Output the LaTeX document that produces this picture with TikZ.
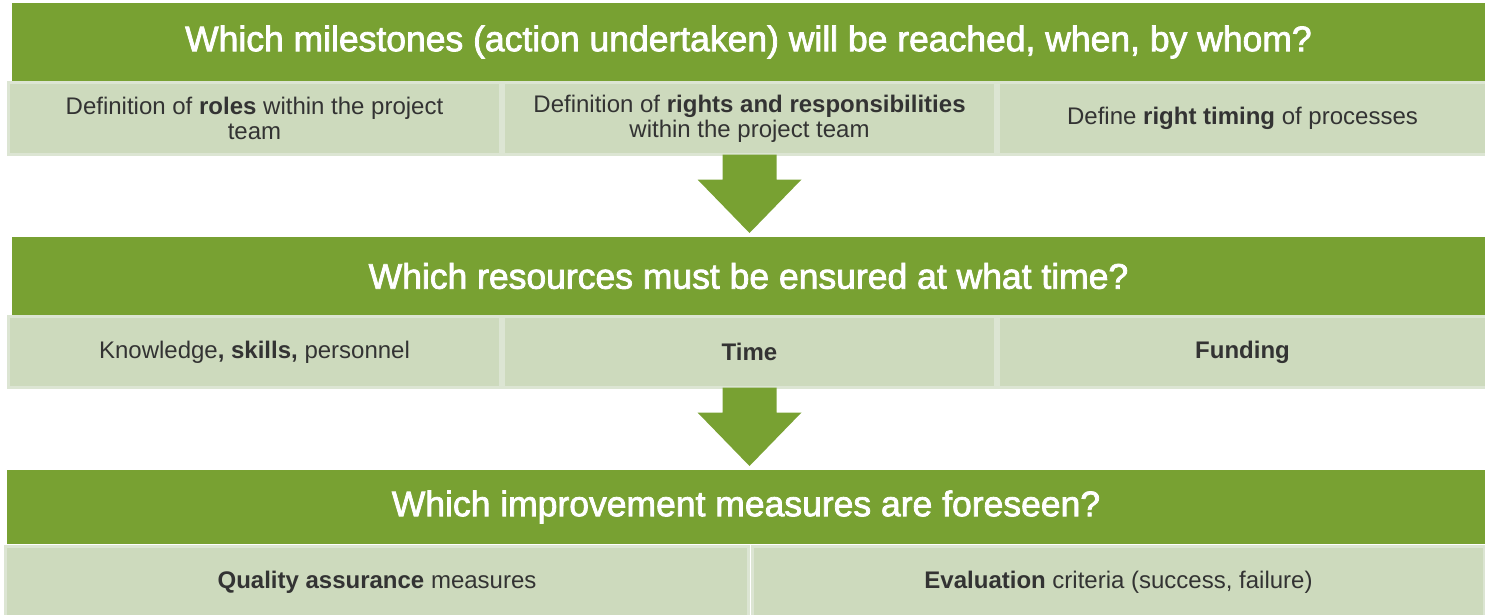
\documentclass[tikz,border=0pt]{standalone}
\usepackage{fontspec}
\setmainfont{Liberation Sans}
\newfontfamily\titlefont[FakeBold=2.2]{Liberation Sans}
\usetikzlibrary{calc}
\definecolor{barg}{HTML}{78A132}
\definecolor{cellf}{HTML}{CDDABD}
\definecolor{celld}{HTML}{DCE5D3}
\definecolor{txt}{HTML}{333333}
\tikzset{
 bar/.style={fill=barg, inner sep=0pt, outer sep=0pt, text=white, font=\titlefont\fontsize{35.5}{40}\selectfont},
 cell/.style={fill=cellf, draw=celld, line width=3pt, inner sep=0pt, outer sep=0pt, text=txt, align=center, font=\fontsize{24}{25}\selectfont},
 blockarrow/.style={fill=barg, draw=none}
}
\begin{document}
\begin{tikzpicture}[x=1pt,y=-1pt]
\useasboundingbox (0,0) rectangle (1485,615);
% level 1
\node[bar, minimum width=1473pt, minimum height=78pt] (bar1) at (748.5,42) {Which milestones (action undertaken) will be reached, when, by whom?};
\node[cell, minimum width=492pt, minimum height=72pt] (r1a) at (254.5,118.5) {Definition of \textbf{roles} within the project\\team};
\node[cell, minimum width=492pt, minimum height=72pt] (r1b) at (749.5,118.5) {Definition of \textbf{rights and responsibilities}\\within the project team};
\node[cell, minimum width=488pt, minimum height=72pt] (r1c) at (1242.5,118.5) {Define \textbf{right timing} of processes};
% level 2
\node[bar, minimum width=1473pt, minimum height=78pt] (bar2) at (748.5,276) {Which resources must be ensured at what time?};
\node[cell, minimum width=492pt, minimum height=71pt] (r2a) at (254.5,352) {Knowledge\textbf{, skills,} personnel};
\node[cell, minimum width=492pt, minimum height=71pt] (r2b) at (749.5,352) {\textbf{Time}};
\node[cell, minimum width=488pt, minimum height=71pt] (r2c) at (1242.5,352) {\textbf{Funding}};
% level 3
\node[bar, minimum width=1478pt, minimum height=74pt] (bar3) at (746,507) {Which improvement measures are foreseen?};
\node[cell, minimum width=743pt, minimum height=73pt] (r3a) at (377,582.5) {\textbf{Quality assurance} measures};
\node[cell, minimum width=732pt, minimum height=73pt] (r3b) at (1118.5,582.5) {\textbf{Evaluation} criteria (success, failure)};
% block arrows
\fill[blockarrow] ($(r1b.south)+(-27,0)$) -- ++(0,25) -- ++(-25,0)
  -- ($(r1b.south |- bar2.north)+(0,-4)$)
  -- ($(r1b.south)+(52,25)$) -- ++(-25,0) -- ($(r1b.south)+(27,0)$) -- cycle;
\fill[blockarrow] ($(r2b.south)+(-27,0)$) -- ++(0,25) -- ++(-25,0)
  -- ($(r2b.south |- bar3.north)+(0,-4)$)
  -- ($(r2b.south)+(52,25)$) -- ++(-25,0) -- ($(r2b.south)+(27,0)$) -- cycle;
\end{tikzpicture}
\end{document}
